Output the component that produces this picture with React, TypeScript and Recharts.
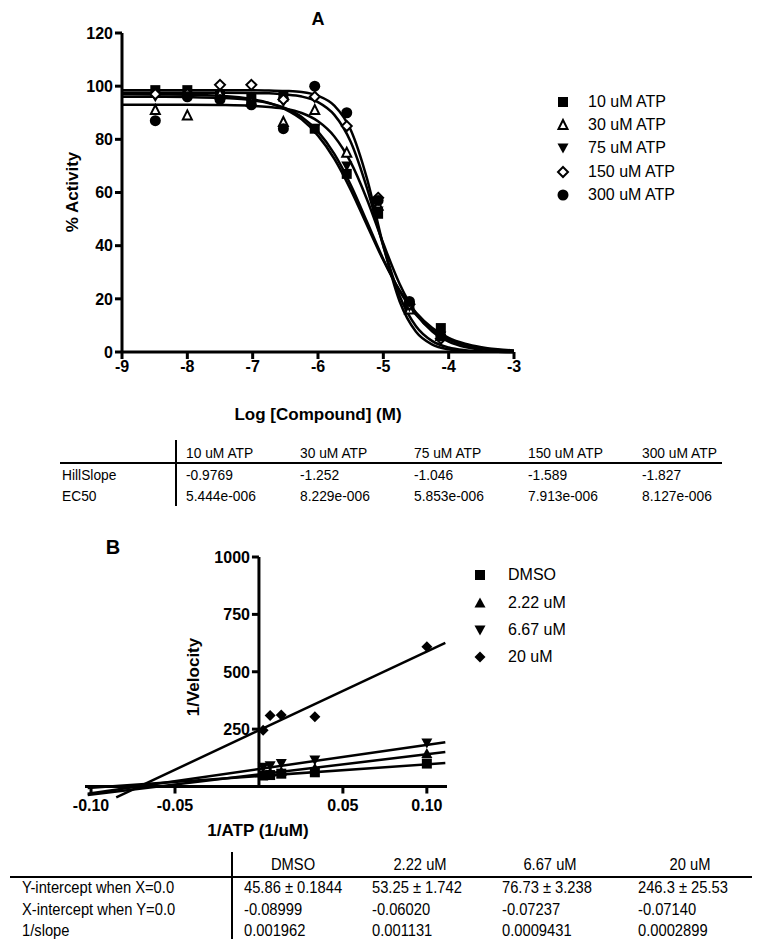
import React from "react";
import {
  ComposedChart,
  Line,
  Scatter,
  XAxis,
  YAxis,
  ReferenceLine,
  ReferenceDot,
} from "recharts";

// ─── Panel A: dose response ──────────────────────────────
const seriesA = ["10 uM ATP", "30 uM ATP", "75 uM ATP", "150 uM ATP", "300 uM ATP"];
const logConc = [-8.49, -8.0, -7.5, -7.02, -6.53, -6.05, -5.56, -5.08, -4.6, -4.12];
const act10 = [98.5, 98.5, 97, 95.5, 96, 84, 67, 52, 17, 9];
const act30 = [91, 89, 97, 94, 86.5, 91, 75, 55, 16, 6];
const act75 = [96, 96, 95, 93, 94, 84, 70, 53, 17, 6];
const act150 = [97, 97, 100.5, 100.5, 95, 96, 85, 58, 18, 5];
const act300 = [87, 96, 95, 93, 84, 100, 90, 57, 19, 6];

// fitted curves
const curveX = [-9, -8.5, -8, -7.5, -7, -6.75, -6.5, -6.25, -6, -5.75, -5.5, -5.25, -5, -4.75, -4.5, -4.25, -4, -3.75, -3.5, -3.25, -3];
const fit10 = [97, 96.9, 96.8, 96.4, 95.1, 93.7, 91.3, 87.5, 81.4, 72.7, 61.1, 47.7, 34.5, 23.2, 14.8, 9.0, 5.3, 3.1, 1.8, 1.0, 0.6];
const fit30 = [93, 93, 93, 92.9, 92.6, 92.2, 91.5, 89.9, 86.8, 81.1, 71.4, 57.4, 40.8, 25.6, 14.5, 7.7, 3.9, 1.9, 1.0, 0.5, 0.2];
const fit75 = [96, 96, 95.9, 95.6, 94.7, 93.6, 91.7, 88.4, 82.9, 74.5, 62.9, 49.0, 34.9, 22.9, 14.0, 8.2, 4.7, 2.6, 1.5, 0.8, 0.4];
const fit150 = [97.5, 97.5, 97.5, 97.5, 97.4, 97.3, 96.9, 96.1, 94.0, 89.2, 79.1, 61.6, 39.8, 21.1, 9.7, 4.1, 1.7, 0.7, 0.3, 0.1, 0];
const fit300 = [98.5, 98.5, 98.5, 98.5, 98.5, 98.4, 98.2, 97.8, 96.4, 92.7, 83.6, 65.2, 40.0, 19.0, 7.6, 2.8, 1.0, 0.35, 0.1, 0.05, 0];

const xTicksA = [-9, -8, -7, -6, -5, -4, -3];
const yTicksA = [0, 20, 40, 60, 80, 100, 120];

const tableAHead = ["10 uM ATP", "30 uM ATP", "75 uM ATP", "150 uM ATP", "300 uM ATP"];
const hillSlope = ["-0.9769", "-1.252", "-1.046", "-1.589", "-1.827"];
const ec50 = ["5.444e-006", "8.229e-006", "5.853e-006", "7.913e-006", "8.127e-006"];

// ─── Panel B: double reciprocal ──────────────────────────
const seriesB = ["DMSO", "2.22 uM", "6.67 uM", "20 uM"];
const invAtp = [0.0025, 0.00667, 0.0133, 0.0333, 0.1];
const velDmso = [48, 50, 56, 62, 100];
const vel222 = [58, 62, 66, 80, 144];
const vel667 = [84, 90, 100, 116, 190];
const vel20 = [245, 309, 312, 304, 609];

// regression line ends
const lineXB = [-0.102, 0.111];
const lineX20 = [-0.085, 0.111];
const lineDmso = [-6, 102];
const line222 = [-37, 150];
const line667 = [-31, 193];
const line20 = [-47, 626];

const xTicksB = [-0.1, -0.05, 0.05, 0.1];
const xTickLabelsB = ["-0.10", "-0.05", "0.05", "0.10"];
const yTicksB = [250, 500, 750, 1000];

const tableBHead = ["DMSO", "2.22 uM", "6.67 uM", "20 uM"];
const tableBRows = ["Y-intercept when X=0.0", "X-intercept when Y=0.0", "1/slope"];
const yIntercept = ["45.86 ± 0.1844", "53.25 ± 1.742", "76.73 ± 3.238", "246.3 ± 25.53"];
const xIntercept = ["-0.08999", "-0.06020", "-0.07237", "-0.07140"];
const invSlope = ["0.001962", "0.001131", "0.0009431", "0.0002899"];

const pts = (xs: number[], ys: number[]) => xs.map((x, i) => ({ x, y: ys[i] }));

const FONT = "'Liberation Sans', Arial, Helvetica, sans-serif";

// ─── markers ─────────────────────────────────────────────
type Kind = "square" | "triOpen" | "triUp" | "triDown" | "diaOpen" | "diamond" | "circle";

function Marker({ kind, cx, cy, s = 5.5 }: { kind: Kind; cx: number; cy: number; s?: number }) {
  switch (kind) {
    case "square":
      return <rect x={cx - s + 0.5} y={cy - s + 0.5} width={2 * s - 1} height={2 * s - 1} fill="#000" />;
    case "triOpen":
      return (
        <polygon
          points={`${cx},${cy - s + 0.5} ${cx - s + 1},${cy + s - 1.5} ${cx + s - 1},${cy + s - 1.5}`}
          fill="#fff" stroke="#000" strokeWidth={2} strokeLinejoin="miter"
        />
      );
    case "triUp":
      return <polygon points={`${cx},${cy - s} ${cx - s},${cy + s - 1} ${cx + s},${cy + s - 1}`} fill="#000" />;
    case "triDown":
      return <polygon points={`${cx - s},${cy - s + 1} ${cx + s},${cy - s + 1} ${cx},${cy + s}`} fill="#000" />;
    case "diaOpen":
      return (
        <polygon
          points={`${cx},${cy - s + 0.5} ${cx + s - 0.5},${cy} ${cx},${cy + s - 0.5} ${cx - s + 0.5},${cy}`}
          fill="#fff" stroke="#000" strokeWidth={2}
        />
      );
    case "diamond":
      return <polygon points={`${cx},${cy - s} ${cx + s},${cy} ${cx},${cy + s} ${cx - s},${cy}`} fill="#000" />;
    default:
      return <circle cx={cx} cy={cy} r={s} fill="#000" />;
  }
}

const shapeOf = (kind: Kind) => (p: any) => <Marker kind={kind} cx={p.cx} cy={p.cy} />;

const kindsA: Kind[] = ["square", "triOpen", "triDown", "diaOpen", "circle"];
const kindsB: Kind[] = ["square", "triUp", "triDown", "diamond"];

const tickStyle = { fill: "#000", fontSize: 16, fontWeight: "bold" as const, fontFamily: FONT };
const axisStroke = { stroke: "#000", strokeWidth: 3 };

function Text({ x, y, children, size = 16, bold = false, anchor = "left", rotate = false, sx = 1 }: any) {
  const tx = anchor === "center" ? "-50%" : anchor === "right" ? "-100%" : "0";
  return (
    <div
      style={{
        position: "absolute",
        left: x,
        top: y,
        transform: `translate(${tx}, -50%)${rotate ? " rotate(-90deg)" : ""}${sx !== 1 ? ` scaleX(${sx})` : ""}`,
        transformOrigin: rotate ? "50% 50%" : anchor === "center" ? "50% 50%" : "0 50%",
        fontSize: size,
        fontWeight: bold ? "bold" : "normal",
        fontFamily: FONT,
        whiteSpace: "nowrap",
        lineHeight: 1,
        color: "#000",
      }}
    >
      {children}
    </div>
  );
}

function LegendRows({ names, kinds, mx, tx, ys }: { names: string[]; kinds: Kind[]; mx: number; tx: number; ys: number[] }) {
  return (
    <>
      {names.map((n, i) => (
        <React.Fragment key={n}>
          <svg style={{ position: "absolute", left: mx - 8, top: ys[i] - 8 }} width={16} height={16}>
            <Marker kind={kinds[i]} cx={8} cy={8} />
          </svg>
          <Text x={tx} y={ys[i]} size={16}>{n}</Text>
        </React.Fragment>
      ))}
    </>
  );
}

function PanelA() {
  const scatters = [act10, act30, act75, act150, act300];
  const fits = [fit10, fit30, fit75, fit150, fit300];
  return (
    <div style={{ position: "absolute", left: 0, top: 0 }}>
      <ComposedChart width={540} height={440} margin={{ top: 33, right: 26, left: 62, bottom: 58 }}>
        <XAxis
          type="number" dataKey="x" domain={[-9, -3]} ticks={xTicksA} interval={0}
          tick={tickStyle} tickLine={axisStroke} axisLine={axisStroke} tickSize={7} height={30}
        />
        <YAxis
          type="number" dataKey="y" domain={[0, 120]} ticks={yTicksA} interval={0}
          tick={tickStyle} tickLine={axisStroke} axisLine={axisStroke} tickSize={7} width={60}
        />
        {fits.map((f, i) => (
          <Line
            key={"f" + i} data={pts(curveX, f)} dataKey="y" type="monotone"
            stroke="#000" strokeWidth={2.5} dot={false} isAnimationActive={false}
          />
        ))}
        {scatters.map((s, i) => (
          <Scatter
            key={"s" + i} data={pts(logConc, s)} dataKey="y"
            shape={shapeOf(kindsA[i])} isAnimationActive={false}
          />
        ))}
      </ComposedChart>
      <Text x={318} y={19} size={18} bold anchor="center">A</Text>
      <Text x={72} y={192} size={17} bold anchor="center" rotate>% Activity</Text>
      <Text x={318} y={414} size={17} bold anchor="center">Log [Compound] (M)</Text>
      <LegendRows names={seriesA} kinds={kindsA} mx={563} tx={588} ys={[102, 125, 148, 172, 195]} />
    </div>
  );
}

function TableA() {
  const cols = [186, 300, 414, 528, 642];
  return (
    <>
      <div style={{ position: "absolute", left: 175, top: 440, width: 2, height: 66, background: "#000" }} />
      <div style={{ position: "absolute", left: 60, top: 462, width: 662, height: 2, background: "#000" }} />
      {tableAHead.map((h, i) => (
        <Text key={h} x={cols[i]} y={452} size={15} sx={0.92}>{h}</Text>
      ))}
      <Text x={62} y={474} size={15} sx={0.92}>HillSlope</Text>
      <Text x={62} y={495} size={15} sx={0.92}>EC50</Text>
      {hillSlope.map((v, i) => (
        <Text key={"h" + i} x={cols[i]} y={474} size={15} sx={0.92}>{v}</Text>
      ))}
      {ec50.map((v, i) => (
        <Text key={"e" + i} x={cols[i]} y={495} size={15} sx={0.92}>{v}</Text>
      ))}
    </>
  );
}

function XTickB(label: string) {
  return (p: any) => (
    <g>
      <line x1={p.cx} y1={p.cy} x2={p.cx} y2={p.cy + 7} stroke="#000" strokeWidth={3} />
      <text x={p.cx} y={p.cy + 24} textAnchor="middle" {...tickStyle}>{label}</text>
    </g>
  );
}

function YTickB(label: string) {
  return (p: any) => (
    <g>
      <line x1={p.cx - 7} y1={p.cy} x2={p.cx} y2={p.cy} stroke="#000" strokeWidth={3} />
      <text x={p.cx - 9} y={p.cy + 6} textAnchor="end" {...tickStyle}>{label}</text>
    </g>
  );
}

function PanelB() {
  const scatters = [velDmso, vel222, vel667, vel20];
  const lines = [
    pts(lineXB, lineDmso),
    pts(lineXB, line222),
    pts(lineXB, line667),
    pts(lineX20, line20),
  ];
  return (
    <div style={{ position: "absolute", left: 0, top: 500 }}>
      <ComposedChart width={470} height={340} margin={{ top: 57, right: 23, left: 85, bottom: 42 }}>
        <XAxis type="number" dataKey="x" domain={[-0.1036, 0.112]} hide />
        <YAxis type="number" dataKey="y" domain={[-50, 1000]} hide />
        <ReferenceLine y={0} stroke="#000" strokeWidth={3} />
        <ReferenceLine segment={[{ x: 0, y: 0 }, { x: 0, y: 1000 }]} stroke="#000" strokeWidth={3} />
        {xTicksB.map((t, i) => (
          <ReferenceDot key={"xt" + i} x={t} y={0} r={0} shape={XTickB(xTickLabelsB[i])} />
        ))}
        {yTicksB.map((t) => (
          <ReferenceDot key={"yt" + t} x={0} y={t} r={0} shape={YTickB(String(t))} />
        ))}
        {lines.map((l, i) => (
          <Line
            key={"l" + i} data={l} dataKey="y" type="linear"
            stroke="#000" strokeWidth={2.5} dot={false} isAnimationActive={false}
          />
        ))}
        {scatters.map((s, i) => (
          <Scatter
            key={"s" + i} data={pts(invAtp, s)} dataKey="y"
            shape={shapeOf(kindsB[i])} isAnimationActive={false}
          />
        ))}
      </ComposedChart>
      <Text x={113} y={47} size={20} bold anchor="center">B</Text>
      <Text x={193} y={177} size={17} bold anchor="center" rotate>1/Velocity</Text>
      <Text x={258} y={330} size={17} bold anchor="center">1/ATP (1/uM)</Text>
    </div>
  );
}

function TableB() {
  const cols = [244, 372, 502, 638];
  const heads = [293, 420, 550, 690];
  const rows = [yIntercept, xIntercept, invSlope];
  const rowY = [888, 910, 931];
  return (
    <>
      <div style={{ position: "absolute", left: 231, top: 852, width: 2, height: 87, background: "#000" }} />
      <div style={{ position: "absolute", left: 10, top: 876, width: 742, height: 2, background: "#000" }} />
      {tableBHead.map((h, i) => (
        <Text key={h} x={heads[i]} y={865} size={16} anchor="center" sx={0.92}>{h}</Text>
      ))}
      {tableBRows.map((r, j) => (
        <Text key={r} x={22} y={rowY[j]} size={16} sx={0.92}>{r}</Text>
      ))}
      {rows.map((row, j) =>
        row.map((v, i) => (
          <Text key={j + "-" + i} x={cols[i]} y={rowY[j]} size={16} sx={0.92}>{v}</Text>
        ))
      )}
    </>
  );
}

export default function App() {
  return (
    <div style={{ position: "absolute", left: 0, top: 0, width: 762, height: 946, background: "#fff", fontFamily: FONT }}>
      <PanelA />
      <TableA />
      <PanelB />
      <LegendRows names={seriesB} kinds={kindsB} mx={480} tx={508} ys={[575, 603, 630, 657]} />
      <TableB />
    </div>
  );
}
